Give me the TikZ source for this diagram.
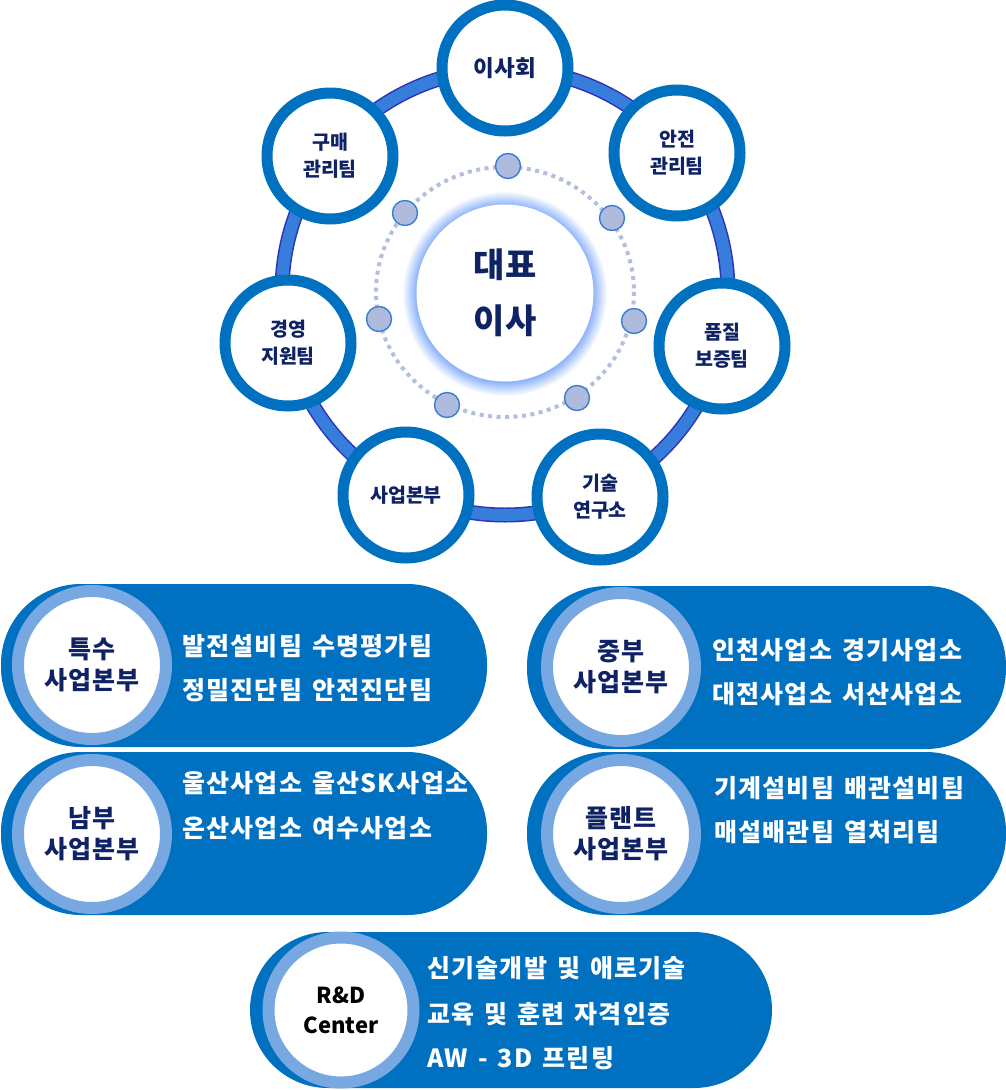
\documentclass[tikz,border=0pt]{standalone}
\usepackage{fontspec}
\setmainfont{Noto Sans CJK KR}
\definecolor{navy}{RGB}{15,35,100}
\definecolor{mainblue}{RGB}{0,112,192}
\definecolor{ringblue}{RGB}{55,125,220}
\definecolor{ringedge}{RGB}{45,50,185}
\definecolor{lightring}{RGB}{120,168,226}
\definecolor{dotcol}{RGB}{180,190,222}
\definecolor{smallfill}{RGB}{174,187,221}
\definecolor{smalledge}{RGB}{58,125,215}
\definecolor{glow}{RGB}{130,172,250}
\tikzset{
  sat/.style={circle, draw=mainblue, line width=11, fill=white, minimum size=126,
    inner sep=0, align=center, text=navy, font=\bfseries\fontsize{19.5}{27}\selectfont},
  dotnode/.style={circle, draw=smalledge, line width=1.4, fill=smallfill, minimum size=25, inner sep=0},
  pill/.style={fill=mainblue, rounded corners=80},
  badge/.style={circle, draw=lightring, line width=12, fill=white, minimum size=148, inner sep=0,
    align=center, text=navy, font=\bfseries\fontsize{25}{31}\selectfont\addfontfeature{LetterSpace=3}},
  desc/.style={anchor=west, text=white, inner sep=0,
    font=\bfseries\fontsize{25}{26}\selectfont\addfontfeature{LetterSpace=5}},
}
\newcommand{\wsp}{\hspace{10pt}}
\begin{document}
\begin{tikzpicture}[x=1pt,y=-1pt]
\useasboundingbox (0,0) rectangle (1006,1090);
% big ring
\draw[ringedge, line width=15] (505,292) circle (223);
\draw[ringblue, line width=12] (505,292) circle (223);
% glow + center
\foreach \i [evaluate=\i as \p using \i*6.5] in {0,...,14}
  {\fill[glow!\p!white] (505,294) circle ({103-\i});}
\node[circle, fill=white, minimum size=177, inner sep=0, align=center, text=navy,
  font=\bfseries\fontsize{34}{56}\selectfont\addfontfeature{LetterSpace=4}] (ceo) at (505,293) {대표\\이사};
% dotted ring
\draw[dotcol, line width=4, dash pattern=on 4 off 4.5] (505,292) ellipse (129 and 125);
\node[dotnode] (d1) at (508,166) {};
\node[dotnode] (d2) at (405,213) {};
\node[dotnode] (d3) at (612,218) {};
\node[dotnode] (d4) at (379,319) {};
\node[dotnode] (d5) at (634,321) {};
\node[dotnode] (d6) at (447,405) {};
\node[dotnode] (d7) at (577,398) {};
% satellites
\node[sat, font=\bfseries\fontsize{22.5}{27}\selectfont] (board) at (505,68) {이사회};
\node[sat] (safety) at (677,153) {안전\\관리팀};
\node[sat] (quality) at (722,346) {품질\\보증팀};
\node[sat] (lab) at (600,497) {기술\\연구소};
\node[sat] (biz) at (406,495) {사업본부};
\node[sat] (mgmt) at (288,343) {경영\\지원팀};
\node[sat] (purchase) at (330,156) {구매\\관리팀};
% pills
\fill[pill] (1,584) rectangle (487,747);
\node[badge] (b1) at (92,665) {특수\\사업본부};
\node[desc] (t1a) at (182,646) {발전설비팀\wsp 수명평가팀};
\node[desc] (t1b) at (182,690) {정밀진단팀\wsp 안전진단팀};

\fill[pill] (527,586) rectangle (1006,749);
\node[badge] (b2) at (621,667) {중부\\사업본부};
\node[desc] (t2a) at (712,650) {인천사업소\wsp 경기사업소};
\node[desc] (t2b) at (712,694) {대전사업소\wsp 서산사업소};

\fill[pill] (1,752) rectangle (487,915);
\node[badge] (b3) at (92,834) {남부\\사업본부};
\node[desc] (t3a) at (182,783) {울산사업소\wsp 울산SK사업소};
\node[desc] (t3b) at (182,828) {온산사업소\wsp 여수사업소};

\fill[pill] (527,752) rectangle (1006,915);
\node[badge] (b4) at (621,834) {플랜트\\사업본부};
\node[desc] (t4a) at (714,788) {기계설비팀\wsp 배관설비팀};
\node[desc] (t4b) at (714,832) {매설배관팀\wsp 열처리팀};

\fill[pill, rounded corners=78] (250,932) rectangle (772,1088);
\node[badge, text=black, minimum size=145, font=\bfseries\fontsize{22}{30}\selectfont] (b5) at (341,1010) {R\&D\\Center};
\node[desc] (t5a) at (427,968) {신기술개발\wsp 및\wsp 애로기술};
\node[desc] (t5b) at (427,1014) {교육\wsp 및\wsp 훈련\wsp 자격인증};
\node[desc] (t5c) at (427,1058) {AW\wsp -\wsp 3D\wsp 프린팅};
\end{tikzpicture}
\end{document}
